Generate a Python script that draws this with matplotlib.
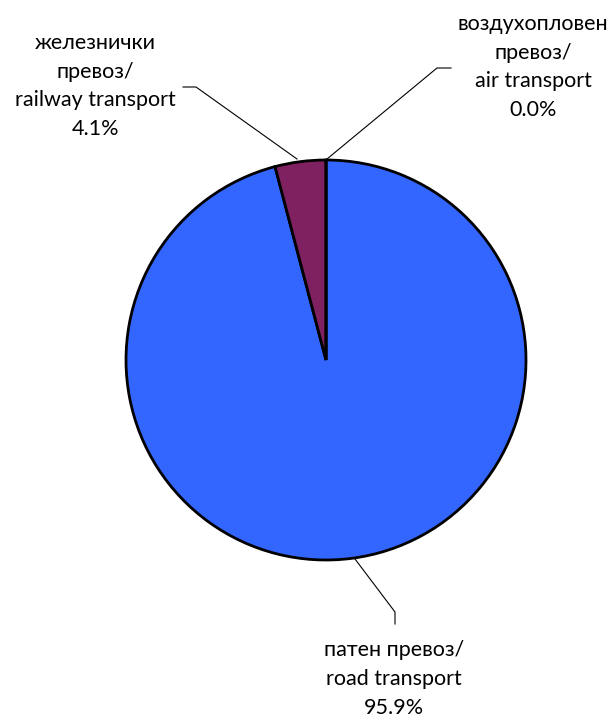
import matplotlib.pyplot as plt

labels = ["патен превоз/\nroad transport", "железнички\nпревоз/\nrailway transport", "воздухопловен\nпревоз/\nair transport"]
shares = [95.9, 4.1, 0.0]
colors = ["#3366FF", "#7F2060", "#3366FF"]

W, H = 613, 722
fig = plt.figure(figsize=(W / 100, H / 100), dpi=100)
ax = fig.add_axes([0, 0, 1, 1])
ax.set_xlim(0, W)
ax.set_ylim(0, H)
ax.set_aspect("equal")
ax.axis("off")

cx, cy, r = 326, H - 360, 200
ax.pie(shares, colors=colors, startangle=90, counterclock=False,
       center=(cx, cy), radius=r,
       wedgeprops=dict(edgecolor="black", linewidth=2))
ax.set_xlim(0, W)
ax.set_ylim(0, H)

font = dict(family="Lato", fontsize=15.5, ha="center", va="center", linespacing=1.55)

# label positions and leader lines (pixel coords, y from top)
texts = [f"{l}\n{s:.1f}%" for l, s in zip(labels, shares)]
pos = [(394, 679), (95, 86), (533, 67)]
leaders = [
    [(355, 559), (395, 612), (395, 624)],
    [(297, 159), (196, 87), (183, 87)],
    [(327, 159), (437, 68), (451, 68)],
]
for t, (x, y), pts in zip(texts, pos, leaders):
    ax.text(x, H - y, t, **font)
    ax.plot([p[0] for p in pts], [H - p[1] for p in pts], color="black", lw=0.8)

fig.savefig("out.png", dpi=100)
